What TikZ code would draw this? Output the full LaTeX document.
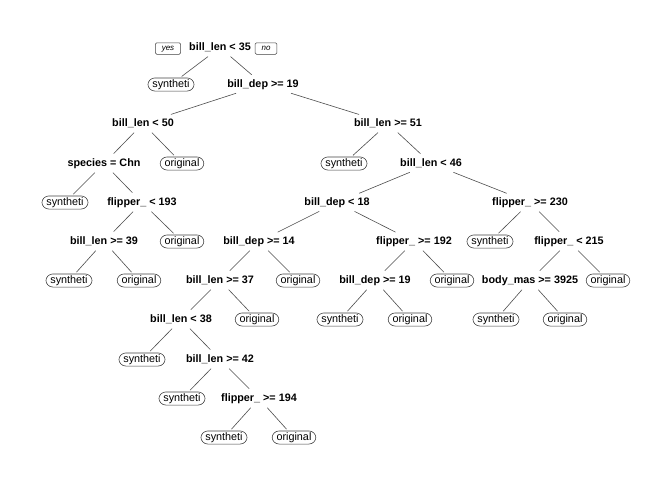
\documentclass[tikz,border=0pt]{standalone}
\usepackage{fontspec}
\setmainfont{Liberation Sans}

\begin{document}
\begin{tikzpicture}[x=1pt,y=-1pt,
    every node/.style={yshift=-1.5pt},
    split/.style={font=\fontsize{10.8}{12}\selectfont\bfseries,inner xsep=1pt,inner ysep=3.5pt,text height=7.5pt,text depth=2pt},
    leaf/.style={draw=black!75,line width=0.6pt,rounded corners=7pt,font=\fontsize{10.8}{12}\selectfont,inner xsep=4.5pt,inner ysep=1.5pt,text height=7.8pt,text depth=2.3pt},
    yesno/.style={draw=black!75,line width=0.5pt,rounded corners=1.5pt,font=\fontsize{8}{9}\selectfont\itshape,inner xsep=6.5pt,inner ysep=2pt,text height=6pt,text depth=1.5pt},
    branch/.style={draw=black!70,line width=0.6pt,shorten <=1pt,shorten >=2pt}]
  \useasboundingbox (0,0) rectangle (672,480);
  % root
  \node[split] (n1) at (220,46) {bill\_len < 35};
  \node[yesno] (yes) at (168,47) {yes};
  \node[yesno] (no) at (266,47) {no};
  \node[leaf] (n2) at (171,83) {syntheti};
  \node[split] (n3) at (263,83) {bill\_dep >= 19};
  % left branch
  \node[split] (n6) at (143,122) {bill\_len < 50};
  \node[split] (n12) at (104,162) {species = Chn};
  \node[leaf] (n13) at (182,162) {original};
  \node[leaf] (n24) at (65,201) {syntheti};
  \node[split] (n25) at (142,201) {flipper\_ < 193};
  \node[split] (n50) at (104,240) {bill\_len >= 39};
  \node[leaf] (n51) at (182,240) {original};
  \node[leaf] (n100) at (69,279) {syntheti};
  \node[leaf] (n101) at (139,279) {original};
  % right branch
  \node[split] (n7) at (388,122) {bill\_len >= 51};
  \node[leaf] (n14) at (344,162) {syntheti};
  \node[split] (n15) at (431,162) {bill\_len < 46};
  \node[split] (n30) at (337,201) {bill\_dep < 18};
  \node[split] (n31) at (530,201) {flipper\_ >= 230};
  \node[split] (n60) at (259,240) {bill\_dep >= 14};
  \node[split] (n61) at (414,240) {flipper\_ >= 192};
  \node[split] (n120) at (220,279) {bill\_len >= 37};
  \node[leaf] (n121) at (298,279) {original};
  \node[split] (n240) at (181,318) {bill\_len < 38};
  \node[leaf] (n241) at (257,318) {original};
  \node[leaf] (n480) at (142,358) {syntheti};
  \node[split] (n481) at (220,358) {bill\_len >= 42};
  \node[leaf] (n962) at (182,397) {syntheti};
  \node[split] (n963) at (259,397) {flipper\_ >= 194};
  \node[leaf] (n1926) at (224,436) {syntheti};
  \node[leaf] (n1927) at (294,436) {original};
  \node[split] (n122) at (375,279) {bill\_dep >= 19};
  \node[leaf] (n123) at (452,279) {original};
  \node[leaf] (n244) at (340,318) {syntheti};
  \node[leaf] (n245) at (410,318) {original};
  \node[leaf] (n62) at (490,240) {syntheti};
  \node[split] (n63) at (569,240) {flipper\_ < 215};
  \node[split] (n126) at (530,279) {body\_mas >= 3925};
  \node[leaf] (n127) at (608,279) {original};
  \node[leaf] (n252) at (496,318) {syntheti};
  \node[leaf] (n253) at (565,318) {original};
  % branches
  \foreach \p/\c in {1/2,1/3,3/6,3/7,6/12,6/13,12/24,12/25,25/50,25/51,50/100,50/101,
      7/14,7/15,15/30,15/31,30/60,30/61,60/120,60/121,120/240,120/241,240/480,240/481,
      481/962,481/963,963/1926,963/1927,61/122,61/123,122/244,122/245,31/62,31/63,
      63/126,63/127,126/252,126/253}{
    \draw[branch] (n\p) -- (n\c);
  }
\end{tikzpicture}
\end{document}
